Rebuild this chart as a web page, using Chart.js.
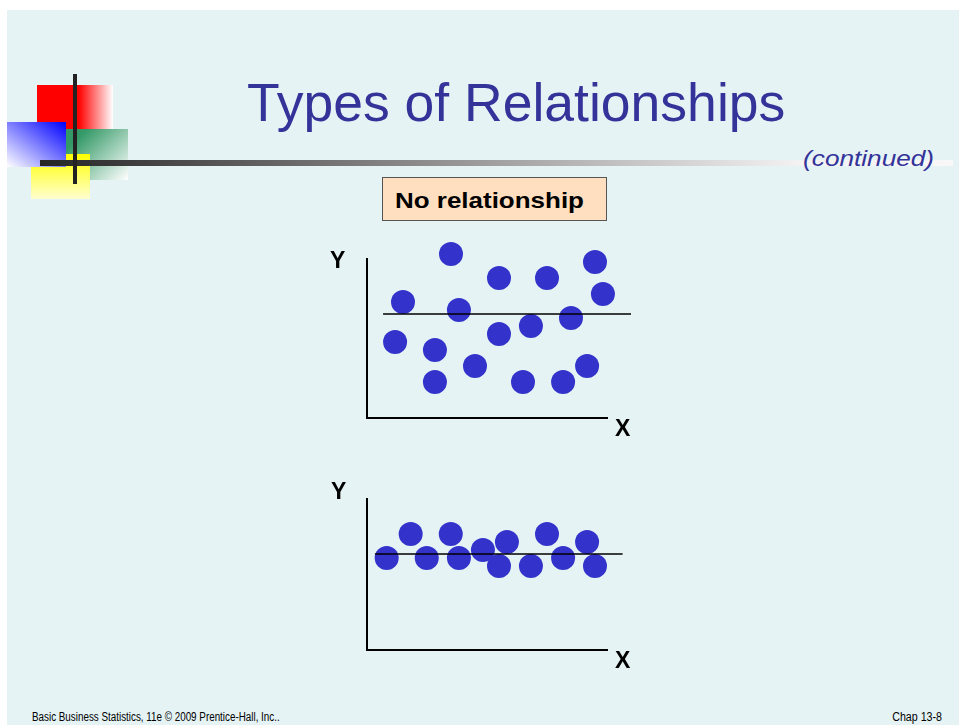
<!DOCTYPE html>
<html>
<head>
<meta charset="utf-8">
<script src="https://cdn.jsdelivr.net/npm/chart.js@4.4.1/dist/chart.umd.min.js"></script>
<style>
  html, body { margin: 0; padding: 0; background: #fff; }
  body { width: 959px; height: 725px; position: relative; overflow: hidden; font-family: 'Liberation Sans', Arial, sans-serif; }
  .slide { position: absolute; left: 7px; top: 10px; width: 952px; height: 715px; background: #e5f3f5; }
  .abs { position: absolute; line-height: 1; white-space: nowrap; }
  canvas { position: absolute; }
</style>
</head>
<body>
<div class="slide"></div>

<!-- corner decoration -->
<div class="abs" style="left:37px;top:85px;width:76px;height:60px;background:linear-gradient(to right,#ff0000 0%,#ff0000 55%,#ffffff 100%);"></div>
<div class="abs" style="left:55px;top:129px;width:73px;height:51px;background:linear-gradient(135deg,#339966 25%,#ffffff 100%);"></div>
<div class="abs" style="left:31px;top:154px;width:59px;height:45px;background:linear-gradient(to bottom,#ffff00,#ffffd0);"></div>
<div class="abs" style="left:7px;top:122px;width:59px;height:45px;background:linear-gradient(to top right,#ffffff,#0000ff);"></div>
<div class="abs" style="left:40px;top:160px;width:913px;height:6px;background:linear-gradient(to right,#252525 0%,#f2f2f2 83%,#f8f8f8 100%);"></div>
<div class="abs" style="left:73px;top:74px;width:4px;height:110px;background:#222;"></div>

<div class="abs" style="left:247px;top:76px;font-size:53.5px;color:#333399;">Types of Relationships</div>
<div class="abs" style="right:25px;top:148px;font-size:22px;font-style:italic;color:#333399;transform:scaleX(1.19);transform-origin:right top;">(continued)</div>

<div class="abs" style="left:382px;top:177px;width:223px;height:42px;background:#ffdfbf;border:1px solid #555;"></div>
<div class="abs" style="left:395px;top:190px;font-size:22px;font-weight:bold;color:#000;transform:scaleX(1.18);transform-origin:left top;">No relationship</div>

<canvas id="chartTop" width="320" height="215" style="left:330px;top:225px;"></canvas>
<canvas id="chartBottom" width="320" height="200" style="left:330px;top:470px;"></canvas>

<div class="abs" style="left:330px;top:249px;font-size:23px;font-weight:bold;">Y</div>
<div class="abs" style="left:615px;top:417px;font-size:23px;font-weight:bold;">X</div>
<div class="abs" style="left:331px;top:480px;font-size:23px;font-weight:bold;">Y</div>
<div class="abs" style="left:615px;top:649px;font-size:23px;font-weight:bold;">X</div>

<div class="abs" style="left:32px;top:711px;font-size:12px;color:#000;transform:scaleX(0.82);transform-origin:left top;">Basic Business Statistics, 11e © 2009 Prentice-Hall, Inc..</div>
<div class="abs" style="right:17px;top:711px;font-size:12px;color:#000;transform:scaleX(0.89);transform-origin:right top;">Chap 13-8</div>

<script>
// top panel: scattered, no pattern
const topX = [3.5, 6.83, 9.5, 5.5, 7.5, 9.83, 1.5, 3.83, 8.5, 6.83, 5.5, 1.17, 2.83, 4.5, 9.17, 2.83, 6.5, 8.17];
const topY = [10.31, 10.82, 9.81, 8.81, 8.81, 7.8, 7.3, 6.79, 6.29, 5.79, 5.28, 4.78, 4.28, 3.27, 3.27, 2.26, 2.26, 2.26];
const topLineX = [0.67, 11];
const topLineY = [6.54, 6.54];

// bottom panel: flat band around the mean
const bottomX = [0.82, 1.82, 2.49, 3.49, 3.83, 4.83, 5.83, 5.5, 6.83, 7.5, 8.17, 9.17, 9.5];
const bottomY = [6.09, 7.68, 6.09, 7.68, 6.09, 6.62, 7.15, 5.56, 5.56, 7.68, 6.09, 7.15, 5.56];
const bottomLineX = [0.33, 10.65];
const bottomLineY = [6.36, 6.36];

const axisMin = 0;
const axisMax = 10;

function toPoints(xs, ys) {
  return xs.map((x, i) => ({ x: x, y: ys[i] }));
}

function makeChart(id, xs, ys, lineX, lineY, padding) {
  const axis = {
    type: 'linear',
    min: axisMin,
    max: axisMax,
    ticks: { display: false },
    grid: { display: false, drawTicks: false },
    border: { display: true, color: '#000', width: 2 }
  };
  return new Chart(document.getElementById(id), {
    type: 'scatter',
    data: {
      datasets: [
        {
          type: 'line',
          data: toPoints(lineX, lineY),
          borderColor: '#000',
          borderWidth: 1.5,
          pointRadius: 0,
          fill: false,
          clip: false,
          order: 0
        },
        {
          data: toPoints(xs, ys),
          backgroundColor: '#3333cc',
          borderWidth: 0,
          pointRadius: 12,
          pointHoverRadius: 12,
          clip: false,
          order: 1
        }
      ]
    },
    options: {
      responsive: false,
      animation: false,
      devicePixelRatio: 1,
      events: [],
      layout: { padding: padding, autoPadding: false },
      plugins: { legend: { display: false }, tooltip: { enabled: false } },
      scales: { x: axis, y: Object.assign({}, axis) }
    }
  });
}

makeChart('chartTop', topX, topY, topLineX, topLineY, { left: 37, right: 43, top: 34, bottom: 22 });
makeChart('chartBottom', bottomX, bottomY, bottomLineX, bottomLineY, { left: 37, right: 43, top: 29, bottom: 20 });
</script>
</body>
</html>
